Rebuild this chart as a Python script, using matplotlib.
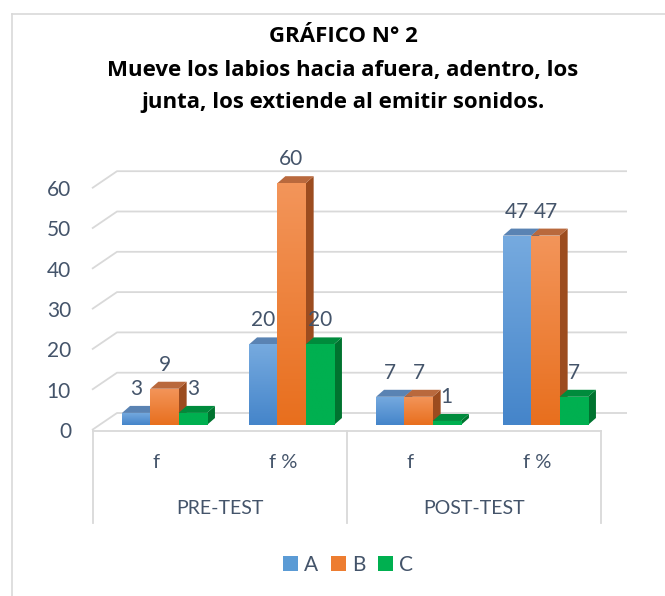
import numpy as np
import matplotlib
matplotlib.use("Agg")
import matplotlib.pyplot as plt
from matplotlib.patches import Polygon, Rectangle, Patch
from matplotlib.colors import LinearSegmentedColormap

# ---------------- data ----------------
groups = ["PRE-TEST", "POST-TEST"]
subcats = ["f", "f %", "f", "f %"]
series = ["A", "B", "C"]
A = [3, 20, 7, 47]
B = [9, 60, 7, 47]
C = [3, 20, 1, 7]
yticks = [0, 10, 20, 30, 40, 50, 60]
title_lines = ["GRÁFICO N° 2",
               "Mueve los labios hacia afuera, adentro, los",
               "junta, los extiende al emitir sonidos."]

# ---------------- style ----------------
plt.rcParams['font.family'] = ['Lato', 'DejaVu Sans']
TXT = '#44546A'
GRID = '#D9D9D9'
front_top = ['#76AADF', '#F3955A', '#00B050']
front_bot = ['#4585CA', '#E86F1E', '#00B050']
top_col = ['#5A83B3', '#B9693D', '#008B3C']
side_col = ['#3E6C9E', '#9C4C1F', '#00732F']

W, H = 665, 596
fig = plt.figure(figsize=(W / 100, H / 100), dpi=100)

# chart frame
fig.add_artist(plt.Line2D([12 / W, 12 / W], [0, 1 - 14 / H], transform=fig.transFigure,
                          color=GRID, lw=1.2))
fig.add_artist(plt.Line2D([12 / W, 1], [1 - 14 / H, 1 - 14 / H], transform=fig.transFigure,
                          color=GRID, lw=1.2))

# axes geometry (pixels)
ppu = 4.03
ymax = 65
axL, axR, y0 = 93, 601, 425
ax = fig.add_axes([axL / W, (H - y0) / H, (axR - axL) / W, ymax * ppu / H])
ax.set_xlim(-0.5, 3.5)
ax.set_ylim(0, ymax)
ax.axis('off')
ux = 4.0 / (axR - axL)   # data units per pixel (x)
uy = 1.0 / ppu           # data units per pixel (y)

# back wall gridlines with left wall diagonals
for v in yticks:
    xs = [-0.5 - 1 * ux, -0.5 + 24 * ux, 3.5 + 26 * ux]
    ys = [v - 5 * uy, v + 12 * uy, v + 12 * uy]
    ax.plot(xs, ys, color=GRID, lw=1.3, clip_on=False, zorder=1, solid_capstyle='butt')
    ax.text(-0.5 - 22 * ux, v - 7 * uy, str(v), ha='right', va='center',
            fontsize=15, color=TXT, clip_on=False)

# category axis box
ax.plot([-0.5, 3.5], [-6 * uy, -6 * uy], color=GRID, lw=1.3, clip_on=False, zorder=1)
for xv in [-0.5, 1.5, 3.5]:
    ax.plot([xv, xv], [-6 * uy, -98 * uy], color=GRID, lw=1.3, clip_on=False, zorder=1)

for i, s in enumerate(subcats):
    ax.text(i, -37 * uy, s, ha='center', va='center', fontsize=14.5, color=TXT, clip_on=False)
for g, name in enumerate(groups):
    ax.text(2 * g + 0.5, -83 * uy, name, ha='center', va='center', fontsize=14,
            color=TXT, clip_on=False)

# 3D-look bars
bw = 28.3 * ux
ddx, ddy = 8 * ux, 7 * uy
shift = 8 * ux
data = [A, B, C]
for i in range(len(subcats)):
    for j, vals in enumerate(data):
        v = vals[i]
        x0 = i + shift + (j - 1.5) * bw
        z = 3 + i * 3 + j
        side = Polygon([(x0 + bw, 0), (x0 + bw + ddx, ddy), (x0 + bw + ddx, v + ddy), (x0 + bw, v)],
                       closed=True, facecolor=side_col[j], edgecolor='none', zorder=z)
        top = Polygon([(x0, v), (x0 + bw, v), (x0 + bw + ddx, v + ddy), (x0 + ddx, v + ddy)],
                      closed=True, facecolor=top_col[j], edgecolor='none', zorder=z)
        ax.add_patch(side)
        ax.add_patch(top)
        front = Rectangle((x0, 0), bw, v, facecolor=front_bot[j], edgecolor='none', zorder=z)
        ax.add_patch(front)
        cmap = LinearSegmentedColormap.from_list('g%d' % j, [front_bot[j], front_top[j]])
        grad = np.linspace(0, 1, 64).reshape(-1, 1)
        im = ax.imshow(grad, extent=(x0, x0 + bw, 0, v), origin='lower', cmap=cmap,
                       aspect='auto', zorder=z + 0.01, interpolation='bilinear')
        im.set_clip_path(front)
        ax.text(x0 + bw / 2, v + 24 * uy, str(v), ha='center', va='center', fontsize=15,
                color=TXT, zorder=20, clip_on=False)

ax.set_xlim(-0.5, 3.5)
ax.set_ylim(0, ymax)

# legend
handles = [Patch(facecolor=c, edgecolor='none') for c in ['#5B9BD5', '#ED7D31', '#00B050']]
fig.legend(handles, series, loc='center', bbox_to_anchor=(348 / W, 1 - 565 / H), ncol=3,
           frameon=False, fontsize=15, handlelength=0.72, handleheight=0.72,
           handletextpad=0.3, columnspacing=0.6, labelcolor=TXT)

# title
for k, line in enumerate(title_lines):
    fig.text(343 / W, 1 - [42, 76, 108][k] / H, line, ha='center', va='baseline',
             fontsize=16, fontweight='bold', color='black',
             family=['Open Sans', 'DejaVu Sans'])

fig.savefig('out.png', dpi=100)
